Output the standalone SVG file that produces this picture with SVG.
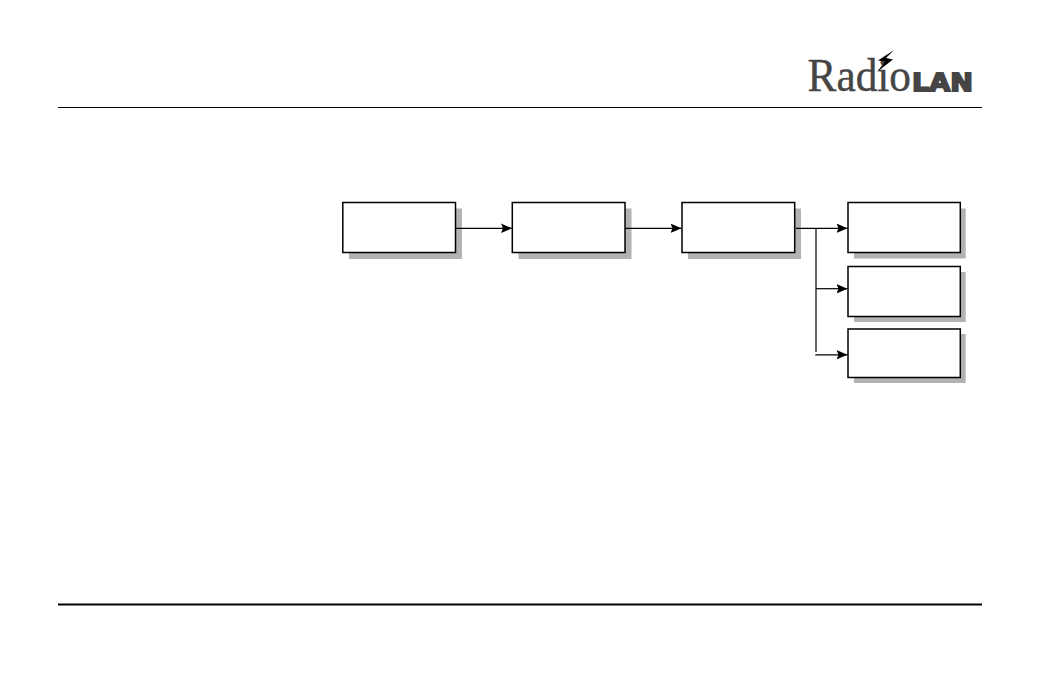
<svg xmlns="http://www.w3.org/2000/svg" width="1040" height="673" viewBox="0 0 1040 673">
  <style>
    .shadow { fill: #b2b2b2; }
    .box { fill: #fff; stroke: #000; stroke-width: 1.5; }
    .wire { fill: none; stroke: #000; stroke-width: 1.2; }
    .rule { stroke: #000; }
    .logo { fill: #454545; stroke: #454545; }
  </style>
  <defs>
    <marker id="head" markerUnits="userSpaceOnUse" markerWidth="12" markerHeight="10" refX="11" refY="5" orient="auto">
      <path d="M0 0.3 L11 5 L0 9.7 L2 5 Z" fill="#000"/>
    </marker>
  </defs>
  <rect width="1040" height="673" fill="#fff"/>

  <g id="header">
    <line class="rule" x1="58" y1="107.5" x2="982" y2="107.5" stroke-width="1"/>
    <text class="logo" x="807.500" y="91" font-family="'Liberation Serif', serif" font-size="46" stroke-width="0.4" textLength="103.500" lengthAdjust="spacingAndGlyphs">Radio</text>
    <text class="logo" x="912" y="90.500" font-family="'DejaVu Sans', sans-serif" font-weight="bold" font-size="25" stroke-width="1.8" textLength="61" lengthAdjust="spacingAndGlyphs">LAN</text>
    <path d="M894 50 L878 60.500 L885 61.500 L877 72 L893 59.500 L886 58 Z" fill="#000"/>
  </g>

  <g id="footer">
    <line class="rule" x1="58" y1="604.5" x2="982" y2="604.5" stroke-width="2"/>
  </g>

  <g id="node-1">
    <rect class="shadow" x="349" y="208.5" width="113" height="50.5"/>
    <rect class="box" x="342.8" y="202.5" width="112.7" height="50"/>
  </g>
  <g id="node-2">
    <rect class="shadow" x="518.5" y="208.5" width="113" height="50.5"/>
    <rect class="box" x="512.3" y="202.5" width="112.7" height="50"/>
  </g>
  <g id="node-3">
    <rect class="shadow" x="688" y="208.5" width="113" height="50.5"/>
    <rect class="box" x="682" y="202.5" width="112.7" height="50"/>
  </g>
  <g id="node-4">
    <rect class="shadow" x="854" y="208.5" width="111.7" height="50"/>
    <rect class="box" x="848" y="202.5" width="112.3" height="50"/>
  </g>
  <g id="node-5">
    <rect class="shadow" x="854" y="272" width="111.7" height="50"/>
    <rect class="box" x="848" y="266.5" width="112.3" height="50"/>
  </g>
  <g id="node-6">
    <rect class="shadow" x="854" y="334" width="111.7" height="49"/>
    <rect class="box" x="848" y="329" width="112.3" height="48.5"/>
  </g>

  <g id="connectors">
    <line class="wire" x1="456" y1="228.3" x2="512" y2="228.3" marker-end="url(#head)"/>
    <line class="wire" x1="625" y1="228.3" x2="681.500" y2="228.3" marker-end="url(#head)"/>
    <line class="wire" x1="796" y1="228.3" x2="847.500" y2="228.3" marker-end="url(#head)"/>
    <line class="wire" x1="816" y1="228" x2="816" y2="352" stroke-width="1.8"/>
    <line class="wire" x1="816" y1="288.7" x2="847.500" y2="288.7" marker-end="url(#head)"/>
    <line class="wire" x1="815.3" y1="354.800" x2="847.500" y2="354.800" marker-end="url(#head)"/>
  </g>
</svg>
